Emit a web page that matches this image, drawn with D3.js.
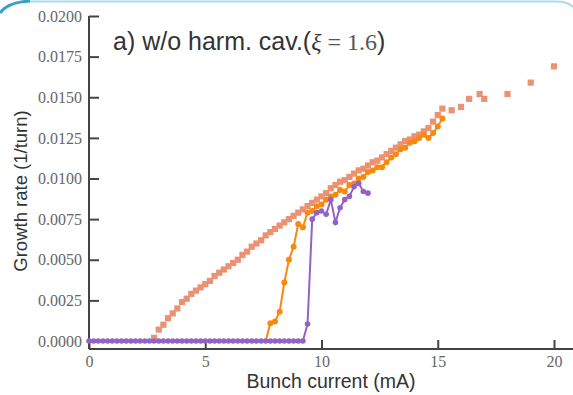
<!DOCTYPE html>
<html>
<head>
<meta charset="utf-8">
<script src="https://cdn.jsdelivr.net/npm/d3@7"></script>
<style>
  body { margin: 0; background: #fff; }
  svg { display: block; }
</style>
</head>
<body>
<script>
// salmon series (dense part, step 0.2 mA, then sparse points)
let salmonX = [2.8, 3.0, 3.2, 3.4, 3.6, 3.8, 4.0, 4.2, 4.4, 4.6, 4.8, 5.0, 5.2, 5.4, 5.6, 5.8,
  6.0, 6.2, 6.4, 6.6, 6.8, 7.0, 7.2, 7.4, 7.6, 7.8, 8.0, 8.2, 8.4, 8.6, 8.8, 9.0, 9.2, 9.4,
  9.6, 9.8, 10.0, 10.2, 10.4, 10.6, 10.8, 11.0, 11.2, 11.4, 11.6, 11.8, 12.0, 12.2, 12.4,
  12.6, 12.8, 13.0, 13.2, 13.4, 13.6, 13.8, 14.0, 14.2, 14.4, 14.6, 14.8, 15.0, 15.2,
  15.6, 16.0, 16.35, 16.8, 17.0, 18.0, 19.0, 20.0]
let salmonY = [0.0002, 0.0007, 0.0010, 0.0014, 0.0017, 0.0020, 0.0024, 0.0026, 0.0029, 0.0031,
  0.0033, 0.0035, 0.0037, 0.0040, 0.0042, 0.0044, 0.0046, 0.0048, 0.0050, 0.0053, 0.0055,
  0.0058, 0.0060, 0.0062, 0.0065, 0.0067, 0.0069, 0.0071, 0.0073, 0.0075, 0.0077, 0.0079,
  0.0081, 0.0083, 0.0085, 0.0087, 0.0089, 0.0091, 0.0094, 0.0096, 0.0098, 0.0099, 0.0101,
  0.0103, 0.0105, 0.0106, 0.0108, 0.0110, 0.0111, 0.0113, 0.0115, 0.0117, 0.0119, 0.0121,
  0.0123, 0.0124, 0.0126, 0.0127, 0.0129, 0.0131, 0.0135, 0.0139, 0.0143,
  0.0142, 0.0144, 0.0149, 0.0152, 0.0149, 0.0152, 0.0159, 0.0169]

// orange series
let orangeX = [0, 0.4, 0.8, 1.2, 1.6, 2.0, 2.4, 2.8, 3.2, 3.6, 4.0, 4.4, 4.8, 5.2, 5.6, 6.0,
  6.4, 6.8, 7.2, 7.6, 7.8, 8.0, 8.2, 8.4, 8.6, 8.8, 9.0, 9.2, 9.4, 9.6, 9.8, 10.0, 10.2,
  10.4, 10.6, 10.8, 11.0, 11.2, 11.4, 11.6, 11.8, 12.0, 12.2, 12.4, 12.6, 12.8, 13.0, 13.2,
  13.4, 13.6, 13.8, 14.0, 14.2, 14.4, 14.6, 14.8, 15.0, 15.2]
let orangeY = [0, 0, 0, 0, 0, 0, 0, 0, 0, 0, 0, 0, 0, 0, 0, 0, 0, 0, 0, 0,
  0.0011, 0.0012, 0.0018, 0.0036, 0.0050, 0.0058, 0.0072, 0.0070, 0.0079, 0.0080, 0.0083,
  0.0084, 0.0087, 0.0089, 0.0090, 0.0093, 0.0092, 0.0096, 0.0097, 0.0100, 0.0101, 0.0104,
  0.0105, 0.0107, 0.0107, 0.0110, 0.0113, 0.0115, 0.0118, 0.0119, 0.0122, 0.0123, 0.0125,
  0.0127, 0.0125, 0.0128, 0.0132, 0.0137]

// purple series
let purpleX = [0, 0.2, 0.4, 0.6, 0.8, 1.0, 1.2, 1.4, 1.6, 1.8, 2.0, 2.2, 2.4, 2.6, 2.8, 3.0,
  3.2, 3.4, 3.6, 3.8, 4.0, 4.2, 4.4, 4.6, 4.8, 5.0, 5.2, 5.4, 5.6, 5.8, 6.0, 6.2, 6.4, 6.6,
  6.8, 7.0, 7.2, 7.4, 7.6, 7.8, 8.0, 8.2, 8.4, 8.6, 8.8, 9.0, 9.2, 9.4, 9.6, 9.8, 10.0,
  10.2, 10.4, 10.6, 10.8, 11.0, 11.2, 11.4, 11.6, 11.8, 12.0]
let purpleY = [0, 0, 0, 0, 0, 0, 0, 0, 0, 0, 0, 0, 0, 0, 0, 0, 0, 0, 0, 0, 0, 0, 0, 0, 0,
  0, 0, 0, 0, 0, 0, 0, 0, 0, 0, 0, 0, 0, 0, 0, 0, 0, 0, 0, 0, 0, 0,
  0.00105, 0.0075, 0.0079, 0.0080, 0.0078, 0.0087, 0.0073, 0.0082, 0.0087, 0.0089, 0.0095,
  0.0097, 0.0092, 0.0091]

let xTicks = [0, 5, 10, 15, 20]
let yTicks = [0, 0.0025, 0.005, 0.0075, 0.01, 0.0125, 0.015, 0.0175, 0.02]

let width = 573
let height = 395

let x = d3.scaleLinear().domain([0, 20]).range([89, 554])
let y = d3.scaleLinear().domain([0, 0.02]).range([341, 16])

let svg = d3.select('body')
  .append('svg')
  .attr('width', width)
  .attr('height', height)

// slide frame remnants at the top edge
svg.append('path')
  .attr('d', 'M26,1.5 L556,1.5 Q568,1.5 573,7')
  .attr('fill', 'none')
  .attr('stroke', '#a9d9ec')
  .attr('stroke-width', 2)
svg.append('path')
  .attr('d', 'M0,13 Q8,2 30,1')
  .attr('fill', 'none')
  .attr('stroke', '#3d9fc9')
  .attr('stroke-width', 3)

// axes
let xAxis = d3.axisBottom(x).tickValues(xTicks).tickSizeInner(-9).tickSizeOuter(0).tickPadding(4)
let yAxis = d3.axisLeft(y).tickValues(yTicks).tickSizeInner(-10).tickSizeOuter(0).tickPadding(7)
  .tickFormat(d3.format('.4f'))

let gx = svg.append('g')
  .attr('transform', 'translate(0,349)')
  .call(xAxis)
gx.select('.domain').attr('d', 'M89,0H573')

let gy = svg.append('g')
  .attr('transform', 'translate(89,0)')
  .call(yAxis)
gy.select('.domain').attr('d', 'M0,16V349')

svg.selectAll('.domain')
  .attr('stroke', '#444')
  .attr('stroke-width', 2)
svg.selectAll('.tick line')
  .attr('stroke', '#444')
  .attr('stroke-width', 2)
svg.selectAll('.tick text')
  .attr('font-family', 'Liberation Serif')
  .attr('font-size', 16)
  .attr('fill', '#666')
gx.selectAll('.tick text').attr('dy', '0.9em')

// salmon squares
let salmon = salmonX.map((d, i) => [d, salmonY[i]])
svg.append('g')
  .selectAll('rect')
  .data(salmon)
  .enter()
  .append('rect')
  .attr('x', d => x(d[0]) - 3.1)
  .attr('y', d => y(d[1]) - 3.1)
  .attr('width', 6.2)
  .attr('height', 6.2)
  .attr('fill', '#ec9272')

let line = d3.line().x(d => x(d[0])).y(d => y(d[1]))

// orange
let orange = orangeX.map((d, i) => [d, orangeY[i]])
svg.append('path')
  .datum(orange)
  .attr('d', line)
  .attr('fill', 'none')
  .attr('stroke', '#f7890f')
  .attr('stroke-width', 2)
svg.append('g')
  .selectAll('circle')
  .data(orange.filter(d => d[1] > 0))
  .enter()
  .append('circle')
  .attr('cx', d => x(d[0]))
  .attr('cy', d => y(d[1]))
  .attr('r', 3)
  .attr('fill', '#f7890f')

// purple
let purple = purpleX.map((d, i) => [d, purpleY[i]])
svg.append('path')
  .datum(purple)
  .attr('d', line)
  .attr('fill', 'none')
  .attr('stroke', '#9461c4')
  .attr('stroke-width', 2)
svg.append('g')
  .selectAll('circle')
  .data(purple)
  .enter()
  .append('circle')
  .attr('cx', d => x(d[0]))
  .attr('cy', d => y(d[1]))
  .attr('r', 2.8)
  .attr('fill', '#9461c4')

// labels
svg.append('text')
  .attr('transform', 'translate(27,191) rotate(-90)')
  .attr('text-anchor', 'middle')
  .attr('font-family', 'Liberation Sans')
  .attr('font-size', 18.5)
  .attr('fill', '#333')
  .text('Growth rate (1/turn)')

svg.append('text')
  .attr('x', 331)
  .attr('y', 388)
  .attr('text-anchor', 'middle')
  .attr('font-family', 'Liberation Sans')
  .attr('font-size', 19.5)
  .attr('fill', '#333')
  .text('Bunch current (mA)')

let title = svg.append('text')
  .attr('x', 113)
  .attr('y', 50)
  .attr('font-family', 'Liberation Sans')
  .attr('font-size', 25)
  .attr('fill', '#333')
title.append('tspan').text('a) w/o harm. cav.(')
title.append('tspan').attr('font-family', 'Liberation Serif').attr('font-style', 'italic').attr('font-size', 24).text('ξ')
title.append('tspan').attr('font-family', 'Liberation Serif').attr('font-size', 24).attr('fill', '#555').text(' = 1.6')
title.append('tspan').text(')')
</script>
</body>
</html>
